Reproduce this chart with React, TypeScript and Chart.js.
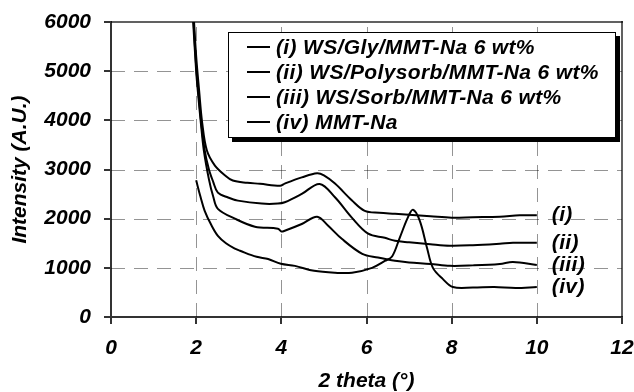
import React, { useEffect, useRef } from "react";
import { Chart, registerables } from "chart.js";

Chart.register(...registerables);

// ---- data ----
const seriesLabels = [
  "(i) WS/Gly/MMT-Na 6 wt%",
  "(ii) WS/Polysorb/MMT-Na 6 wt%",
  "(iii) WS/Sorb/MMT-Na 6 wt%",
  "(iv) MMT-Na",
];
const endLabels = ["(i)", "(ii)", "(iii)", "(iv)"];

const xGly = [1.93, 2.0, 2.07, 2.14, 2.25, 2.44, 2.68, 2.86, 3.2, 3.5, 3.97, 4.08, 4.48, 4.84, 5.0, 5.26, 5.66, 5.96, 6.3, 6.67, 7.0, 7.5, 8.0, 8.5, 9.13, 9.6, 10.0];
const yGly = [6300, 5300, 4600, 3960, 3390, 3080, 2880, 2775, 2730, 2710, 2670, 2714, 2840, 2925, 2880, 2714, 2370, 2160, 2120, 2100, 2080, 2050, 2020, 2030, 2040, 2070, 2070];

const xPoly = [1.92, 2.0, 2.06, 2.12, 2.2, 2.3, 2.4, 2.51, 2.75, 2.98, 3.54, 3.92, 4.08, 4.48, 4.9, 5.26, 5.65, 6.04, 6.43, 6.67, 7.0, 7.5, 7.96, 8.5, 9.13, 9.44, 10.0];
const yPoly = [6300, 5100, 4500, 3950, 3390, 3000, 2750, 2530, 2430, 2367, 2306, 2306, 2333, 2503, 2707, 2435, 2027, 1694, 1610, 1550, 1520, 1480, 1450, 1460, 1490, 1510, 1510];

const xSorb = [1.91, 2.0, 2.06, 2.11, 2.18, 2.3, 2.4, 2.51, 2.91, 3.38, 3.92, 4.0, 4.08, 4.48, 4.84, 5.1, 5.42, 5.9, 6.27, 6.67, 7.0, 7.5, 7.96, 8.5, 9.13, 9.44, 10.0];
const ySorb = [6300, 5000, 4400, 3950, 3390, 2800, 2450, 2200, 2000, 1837, 1796, 1740, 1755, 1891, 2040, 1857, 1590, 1285, 1210, 1143, 1110, 1080, 1040, 1050, 1080, 1120, 1060];

const xMmt = [2.0, 2.1, 2.2, 2.35, 2.51, 2.7, 2.91, 3.03, 3.42, 3.69, 3.99, 4.32, 4.77, 5.26, 5.66, 6.13, 6.43, 6.6, 6.78, 6.97, 7.09, 7.25, 7.42, 7.56, 7.79, 8.03, 8.5, 9.0, 9.5, 10.0];
const yMmt = [2780, 2450, 2160, 1880, 1650, 1500, 1390, 1347, 1224, 1180, 1082, 1040, 939, 900, 900, 1000, 1140, 1230, 1610, 2020, 2180, 1960, 1410, 1000, 775, 610, 600, 610, 590, 610];

const xMin = 0, xMax = 12, xStep = 2;
const yMin = 0, yMax = 6000, yStep = 1000;
const xTitle = "2 theta (°)";
const yTitle = "Intensity (A.U.)";

const FAMILY = "'Liberation Sans', Arial, sans-serif";
const FONT_SIZE = 21;
const GRID_COLOR = "rgba(0,0,0,0.42)";
const FRAME_COLOR = "rgba(0,0,0,0.62)";
const AXIS_COLOR = "#333333";
const DASH = 14;
const GAP = 9;

function pts(xs: number[], ys: number[]) {
  return xs.map((x, i) => ({ x, y: ys[i] }));
}

// everything below drawn with fillRect (rectangles), which renders reliably
function drawGuides(chart: any) {
  const ctx: CanvasRenderingContext2D = chart.ctx;
  const xs = chart.scales.x;
  const ys = chart.scales.y;
  const L = Math.round(xs.left), R = Math.round(xs.right);
  const T = Math.round(ys.top), B = Math.round(ys.bottom);
  ctx.save();
  ctx.fillStyle = GRID_COLOR;
  for (const t of xs.ticks) {
    if (t.value <= xs.min || t.value >= xs.max) continue;
    const px = Math.round(xs.getPixelForValue(t.value));
    for (let y = B; y > T; y -= DASH + GAP) {
      const h = Math.min(DASH, y - T);
      ctx.fillRect(px, y - h, 1, h);
    }
  }
  for (const t of ys.ticks) {
    if (t.value <= ys.min || t.value >= ys.max) continue;
    const py = Math.round(ys.getPixelForValue(t.value));
    for (let x = L; x < R; x += DASH + GAP) {
      const w = Math.min(DASH, R - x);
      ctx.fillRect(x, py, w, 1);
    }
  }
  ctx.fillStyle = FRAME_COLOR;
  ctx.fillRect(L, T - 1, R - L + 1, 2);
  ctx.fillRect(R - 1, T - 1, 2, B - T + 1);
  ctx.fillStyle = AXIS_COLOR;
  for (const t of xs.ticks) {
    const px = Math.round(xs.getPixelForValue(t.value));
    ctx.fillRect(px - 1, B, 2, 7);
  }
  for (const t of ys.ticks) {
    const py = Math.round(ys.getPixelForValue(t.value));
    ctx.fillRect(L - 7, py - 1, 7, 2);
  }
  ctx.restore();
}

const decorPlugin = {
  id: "decor",
  beforeDatasetsDraw(chart: any) {
    drawGuides(chart);
  },
  afterDatasetsDraw(chart: any) {
    const ctx: CanvasRenderingContext2D = chart.ctx;
    const xs = chart.scales.x;
    const ys = chart.scales.y;
    ctx.save();
    const lx = xs.left + 117;
    const ly = ys.top + 10;
    const lw = 388;
    const lh = 106;
    ctx.fillStyle = "#000";
    ctx.fillRect(lx + 4, ly + 4, lw, lh);
    ctx.fillStyle = "#fff";
    ctx.fillRect(lx, ly, lw, lh);
    ctx.strokeStyle = "#000";
    ctx.lineWidth = 1;
    ctx.strokeRect(lx + 0.5, ly + 0.5, lw - 1, lh - 1);
    ctx.font = `italic bold ${FONT_SIZE}px ${FAMILY}`;
    try { (ctx as any).letterSpacing = "0.35px"; } catch (e) {}
    ctx.textBaseline = "middle";
    ctx.textAlign = "left";
    chart.data.datasets.forEach((ds: any, i: number) => {
      const cy = ly + 15 + i * 25;
      ctx.fillStyle = "#000";
      ctx.fillRect(lx + 19, cy - 1, 23, 2);
      ctx.fillText(ds.label, lx + 48, cy + 1);
    });
    chart.data.datasets.forEach((ds: any, i: number) => {
      const last = ds.data[ds.data.length - 1];
      const px = xs.getPixelForValue(last.x) + 15;
      const py = ys.getPixelForValue(last.y);
      ctx.fillStyle = "#000";
      ctx.fillText(endLabels[i], px, py);
    });
    ctx.restore();
  },
};

export default function App() {
  const ref = useRef<HTMLCanvasElement | null>(null);
  useEffect(() => {
    if (!ref.current) return;
    const font = { family: FAMILY, size: FONT_SIZE, style: "italic" as const, weight: "bold" as const };
    const mk = (label: string, data: any) => ({
      label,
      data,
      borderColor: "#000",
      backgroundColor: "#000",
      borderWidth: 2,
      pointRadius: 0,
      tension: 0.35,
      fill: false,
    });
    const chart = new Chart(ref.current, {
      type: "line",
      data: {
        datasets: [
          mk(seriesLabels[0], pts(xGly, yGly)),
          mk(seriesLabels[1], pts(xPoly, yPoly)),
          mk(seriesLabels[2], pts(xSorb, ySorb)),
          mk(seriesLabels[3], pts(xMmt, yMmt)),
        ],
      },
      options: {
        animation: false,
        responsive: true,
        maintainAspectRatio: false,
        layout: { padding: { top: 22, right: 12, bottom: 0, left: 0 } },
        plugins: { legend: { display: false }, tooltip: { enabled: false } },
        scales: {
          x: {
            type: "linear",
            min: xMin,
            max: xMax,
            ticks: { stepSize: xStep, color: "#000", font, padding: 19, maxRotation: 0, callback: (v: any) => String(v) },
            grid: { display: false, drawTicks: false },
            border: { display: true, color: AXIS_COLOR, width: 2 },
            title: { display: true, text: xTitle, color: "#000", font: { ...font, lineHeight: 1 }, padding: { top: 0, bottom: 0 } },
            afterFit(s: any) {
              s.height = 75;
              s.paddingLeft = 0;
              s.paddingRight = 0;
            },
          },
          y: {
            type: "linear",
            min: yMin,
            max: yMax,
            ticks: { stepSize: yStep, color: "#000", font, padding: 20, callback: (v: any) => String(v) },
            grid: { display: false, drawTicks: false },
            border: { display: true, color: AXIS_COLOR, width: 2 },
            title: { display: true, text: yTitle, color: "#000", font: { ...font, lineHeight: 1 }, padding: { top: 10, bottom: 0 } },
            afterFit(s: any) {
              s.width = 111;
              s.paddingTop = 0;
              s.paddingBottom = 0;
            },
          },
        },
      },
      plugins: [decorPlugin],
    } as any);
    return () => chart.destroy();
  }, []);
  return (
    <div style={{ position: "absolute", left: 0, top: 0, width: 634, height: 392, background: "#fff" }}>
      <canvas ref={ref} />
    </div>
  );
}
